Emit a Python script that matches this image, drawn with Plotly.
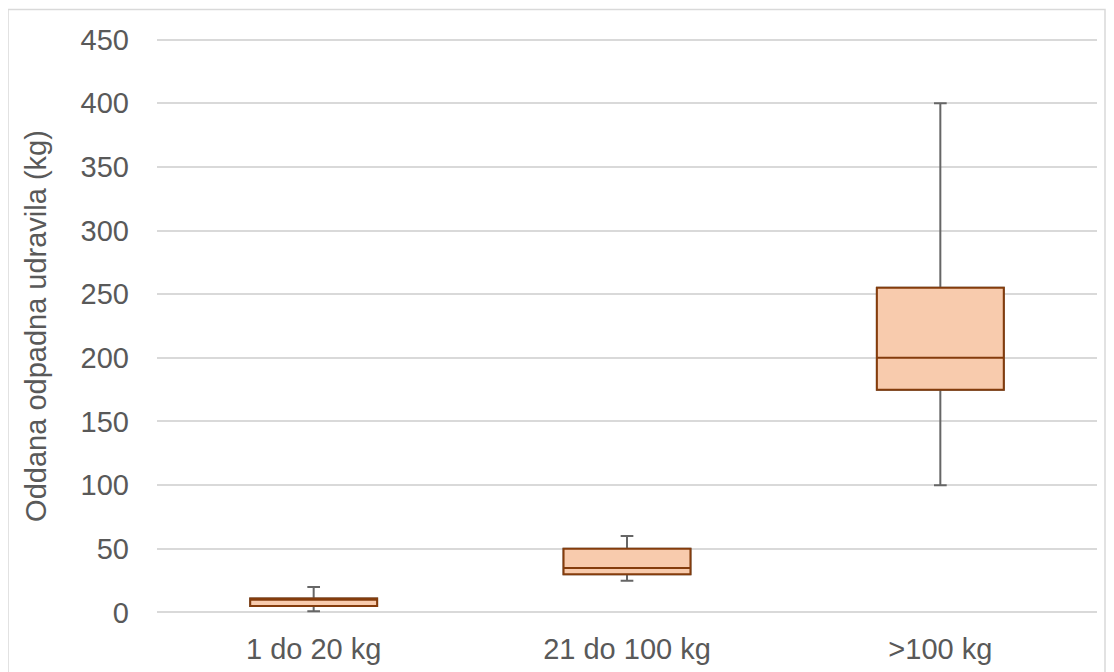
import plotly.graph_objects as go

categories = ["1 do 20 kg", "21 do 100 kg", ">100 kg"]
minimum = [1, 25, 100]
q1 = [5, 30, 175]
median = [10, 35, 200]
q3 = [11, 50, 255]
maximum = [20, 60, 400]
y_ticks = [0, 50, 100, 150, 200, 250, 300, 350, 400, 450]

FILL = "#F8CBAD"
EDGE = "#843C0C"
WHISK = "#666666"
TXT = "#595959"
FS = 29

fig = go.Figure()
# whiskers (grey)
fig.add_trace(go.Box(
    x=categories, q1=q1, median=median, q3=q3,
    lowerfence=minimum, upperfence=maximum,
    fillcolor=FILL, line=dict(color=WHISK, width=2),
    width=0.405, whiskerwidth=0.1, boxpoints=False, hoverinfo="skip",
    showlegend=False,
))
# box body (brown) on top
fig.add_trace(go.Box(
    x=categories, q1=q1, median=median, q3=q3,
    lowerfence=q1, upperfence=q3,
    fillcolor=FILL, line=dict(color=EDGE, width=2),
    width=0.405, whiskerwidth=0, boxpoints=False,
    showlegend=False,
))

# page body has an 8px margin: compensate
OFF = 8
W, H = 1114 - OFF, 672 - OFF
Y0_PX, Y450_PX = 612, 40          # target pixel rows of 0 and 450 on the page
PAD = 2.0                          # range padding (data units) so edge gridlines are drawn
scale = (Y0_PX - Y450_PX) / 450.0
top_abs = Y450_PX - PAD * scale
bot_abs = Y0_PX + PAD * scale
L, R = 157 - OFF, 1114 - 1097
T, B = top_abs - OFF, 672 - bot_abs
pw, ph = W - L - R, H - T - B

fig.update_layout(
    width=W, height=H,
    margin=dict(l=L, r=R, t=T, b=B),
    paper_bgcolor="white", plot_bgcolor="white",
    boxmode="overlay",
    font=dict(family="Liberation Sans, Arial, sans-serif", color=TXT, size=FS),
    xaxis=dict(
        type="category", range=[-0.5, 2.5], showgrid=False, showline=False, zeroline=False,
        ticks="", tickfont=dict(size=FS, color=TXT), ticklabelstandoff=14, automargin=False,
    ),
    yaxis=dict(
        range=[-PAD, 450 + PAD], tickvals=y_ticks, showgrid=True, gridcolor="#D9D9D9",
        gridwidth=1.5, zeroline=False, showline=False, ticks="",
        tickfont=dict(size=FS, color=TXT), ticklabelstandoff=27, automargin=False,
        title=dict(text="Oddana odpadna udravila (kg)", font=dict(size=FS, color=TXT), standoff=25),
    ),
    shapes=[dict(
        type="rect", xref="paper", yref="paper",
        x0=(8 - OFF - L) / pw, x1=(1105 - OFF - L) / pw,
        y0=-(B + 40) / ph, y1=1 + (T - (10 - OFF)) / ph,
        line=dict(color="#D9D9D9", width=1.5), fillcolor="rgba(0,0,0,0)", layer="below",
    )],
)

fig.write_html("out.html")
